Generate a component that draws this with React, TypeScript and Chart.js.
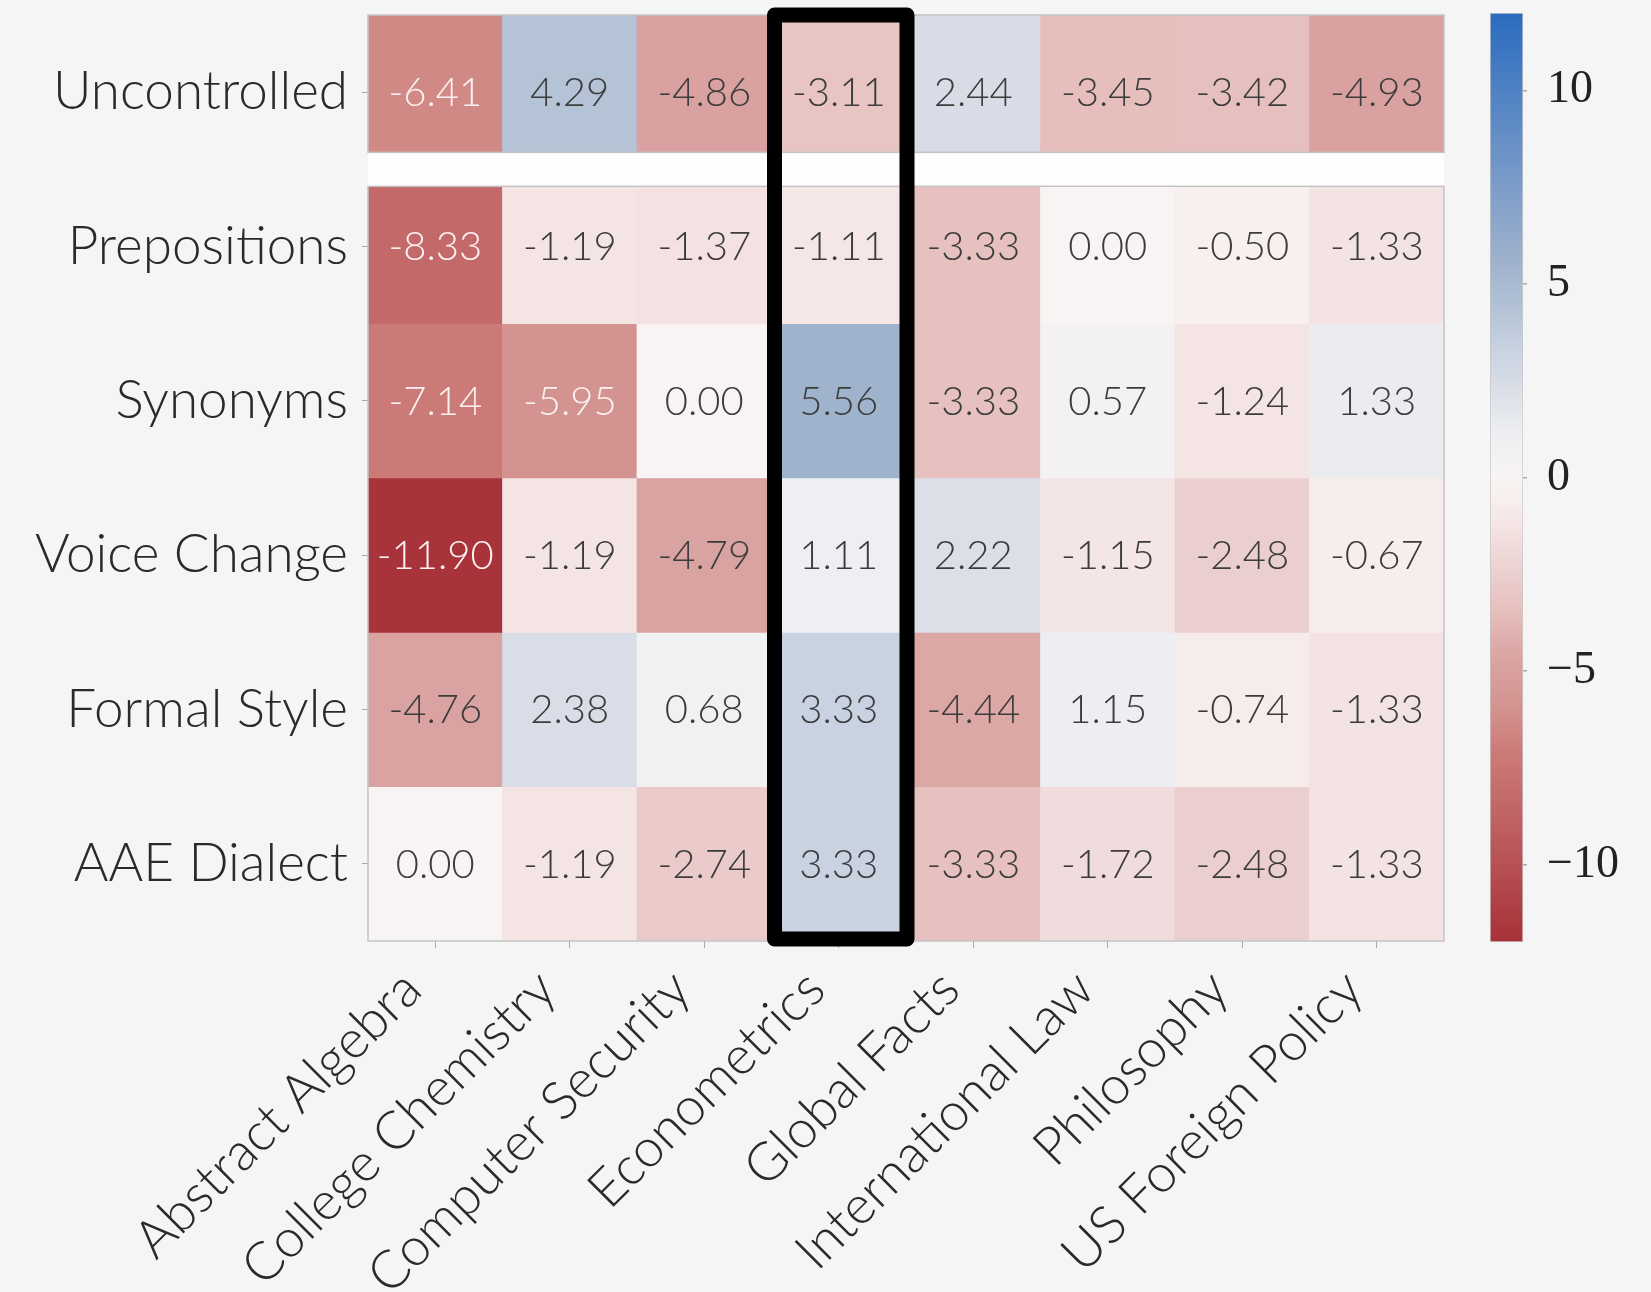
import React, { useEffect, useRef } from "react";
import { Chart, registerables } from "chart.js";

Chart.register(...registerables);

// ---------- data ----------
const columns = [
  "Abstract Algebra",
  "College Chemistry",
  "Computer Security",
  "Econometrics",
  "Global Facts",
  "International Law",
  "Philosophy",
  "US Foreign Policy",
];
const rowLabels = ["Uncontrolled", "Prepositions", "Synonyms", "Voice Change", "Formal Style", "AAE Dialect"];
const uncontrolled = [-6.41, 4.29, -4.86, -3.11, 2.44, -3.45, -3.42, -4.93];
const prepositions = [-8.33, -1.19, -1.37, -1.11, -3.33, 0.0, -0.5, -1.33];
const synonyms = [-7.14, -5.95, 0.0, 5.56, -3.33, 0.57, -1.24, 1.33];
const voiceChange = [-11.9, -1.19, -4.79, 1.11, 2.22, -1.15, -2.48, -0.67];
const formalStyle = [-4.76, 2.38, 0.68, 3.33, -4.44, 1.15, -0.74, -1.33];
const aaeDialect = [0.0, -1.19, -2.74, 3.33, -3.33, -1.72, -2.48, -1.33];
const rowValues = [uncontrolled, prepositions, synonyms, voiceChange, formalStyle, aaeDialect];
const highlightedColumn = "Econometrics";
const colorbarTicks = [-10, -5, 0, 5, 10];
const colorMin = -12;
const colorMax = 12;

// ---------- style ----------
const BG = "#f5f5f5";
const LABEL_FONT = "Lato";
const LABEL_WEIGHT = "300";
const colorAnchors: [number, number[]][] = [
  [-12, [168, 49, 57]],
  [-9, [190, 96, 98]],
  [-7, [205, 124, 122]],
  [-6, [211, 146, 143]],
  [-4.5, [219, 167, 165]],
  [-3.4, [230, 192, 190]],
  [-2.5, [235, 207, 207]],
  [-1.2, [244, 229, 228]],
  [-0.6, [247, 239, 237]],
  [0, [248, 244, 243]],
  [1.1, [238, 239, 242]],
  [2.3, [217, 222, 231]],
  [3.33, [200, 210, 225]],
  [4.3, [180, 195, 214]],
  [5.6, [159, 178, 205]],
  [12, [42, 107, 191]],
];

function colorRGB(v: number): number[] {
  const x = Math.max(colorMin, Math.min(colorMax, v));
  for (let i = 0; i < colorAnchors.length - 1; i++) {
    const [a, ca] = colorAnchors[i];
    const [b, cb] = colorAnchors[i + 1];
    if (x >= a && x <= b) {
      const t = (x - a) / (b - a);
      return ca.map((c, k) => Math.round(c + (cb[k] - c) * t));
    }
  }
  return colorAnchors[colorAnchors.length - 1][1];
}
const rgb = (c: number[]) => `rgb(${c[0]},${c[1]},${c[2]})`;
function luminance(c: number[]) {
  const lin = c.map((u) => {
    const s = u / 255;
    return s <= 0.03928 ? s / 12.92 : Math.pow((s + 0.055) / 1.055, 2.4);
  });
  return 0.2126 * lin[0] + 0.7152 * lin[1] + 0.0722 * lin[2];
}

const GAP_HALF = 0.11; // half-height of separator strip in row units

const overlayPlugin = {
  id: "heatOverlay",
  afterDatasetsDraw(chart: any) {
    const { ctx, chartArea, scales } = chart;
    const y = scales.y;
    const gTop = y.getPixelForValue(1 - GAP_HALF);
    const gBot = y.getPixelForValue(1 + GAP_HALF);
    ctx.save();
    // separator strip
    ctx.fillStyle = "#fdfdfd";
    ctx.fillRect(chartArea.left, gTop, chartArea.right - chartArea.left, gBot - gTop);
    // frames
    ctx.strokeStyle = "#c4c4c4";
    ctx.lineWidth = 1.5;
    ctx.strokeRect(chartArea.left, chartArea.top, chartArea.right - chartArea.left, gTop - chartArea.top);
    ctx.strokeRect(chartArea.left, gBot, chartArea.right - chartArea.left, chartArea.bottom - gBot);
    // annotations
    ctx.font = `${LABEL_WEIGHT} 40px ${LABEL_FONT}`;
    ctx.textAlign = "center";
    ctx.textBaseline = "middle";
    rowValues.forEach((vals, r) => {
      const meta = chart.getDatasetMeta(r);
      meta.data.forEach((el: any, c: number) => {
        const v = vals[c];
        const col = colorRGB(v);
        ctx.fillStyle = luminance(col) < 0.4 ? "#fbf1f1" : "#3c3c3c";
        const cy = (el.y + el.base) / 2;
        ctx.fillText(v.toFixed(2), el.x, cy + 1);
      });
    });
    ctx.restore();
  },
  afterDraw(chart: any) {
    const { ctx, chartArea, scales } = chart;
    const x = scales.x;
    const idx = columns.indexOf(highlightedColumn);
    if (idx < 0) return;
    const cx = x.getPixelForValue(idx);
    const hw = (x.getPixelForValue(1) - x.getPixelForValue(0)) / 2;
    const left = cx - hw + 3;
    const right = cx + hw + 1;
    const top = chartArea.top;
    const bottom = chartArea.bottom - 2;
    ctx.save();
    ctx.strokeStyle = "#000";
    ctx.lineWidth = 15;
    ctx.lineJoin = "round";
    ctx.strokeRect(left, top, right - left, bottom - top);
    ctx.restore();
  },
};

export default function App() {
  const heatRef = useRef<HTMLCanvasElement>(null);
  const barRef = useRef<HTMLCanvasElement>(null);

  useEffect(() => {
    document.body.style.margin = "0";
    document.body.style.background = BG;

    const datasets = rowLabels.map((label, r) => ({
      label,
      data: columns.map(() => [r, r + 1]),
      backgroundColor: columns.map((_, c) => rgb(colorRGB(rowValues[r][c]))),
      borderWidth: 0,
      barPercentage: 1,
      categoryPercentage: 1,
      grouped: false,
    }));

    const heat = new Chart(heatRef.current as HTMLCanvasElement, {
      type: "bar",
      data: { labels: columns, datasets: datasets as any },
      options: {
        animation: false,
        responsive: false,
        layout: { padding: { top: 15, right: 207, bottom: 0, left: 0 } },
        plugins: { legend: { display: false }, tooltip: { enabled: false } },
        scales: {
          x: {
            type: "category",
            offset: true,
            grid: { offset: false, drawOnChartArea: false, drawTicks: true, tickLength: 7, color: "#aaaaaa" },
            border: { display: false },
            ticks: {
              autoSkip: false,
              minRotation: 45,
              maxRotation: 45,
              font: { family: LABEL_FONT, size: 53, weight: LABEL_WEIGHT },
              color: "#2a2a2a",
              padding: 10,
              labelOffset: -23,
            },
            afterFit: (s: any) => {
              s.height = 351;
              s.paddingLeft = 0;
              s.paddingRight = 0;
            },
          },
          y: {
            type: "linear",
            min: 0,
            max: rowLabels.length,
            reverse: true,
            afterBuildTicks: (s: any) => {
              s.ticks = rowLabels.map((_, i) => ({ value: i + 0.5 }));
            },
            grid: { drawOnChartArea: false, drawTicks: true, tickLength: 6, color: "#aaaaaa" },
            border: { display: false },
            ticks: {
              callback: (_v: any, i: number) => rowLabels[i],
              font: { family: LABEL_FONT, size: 53, weight: LABEL_WEIGHT },
              color: "#2a2a2a",
              padding: 14,
            },
            afterFit: (s: any) => {
              s.width = 368;
              s.paddingTop = 0;
              s.paddingBottom = 0;
            },
          },
        },
      } as any,
      plugins: [overlayPlugin],
    });

    const cbar = new Chart(barRef.current as HTMLCanvasElement, {
      type: "bar",
      data: {
        labels: [""],
        datasets: [
          {
            data: [[colorMin, colorMax]] as any,
            backgroundColor: (ctx: any) => {
              const chart = ctx.chart;
              const ys = chart.scales.y;
              if (!chart.chartArea || !ys) return "#ccc";
              const g = chart.ctx.createLinearGradient(0, ys.getPixelForValue(colorMin), 0, ys.getPixelForValue(colorMax));
              colorAnchors.forEach(([v, c]) => g.addColorStop((v - colorMin) / (colorMax - colorMin), rgb(c)));
              return g;
            },
            borderColor: "#c8c8c8",
            borderWidth: 1,
            borderSkipped: false,
            barPercentage: 1,
            categoryPercentage: 1,
          },
        ],
      },
      options: {
        animation: false,
        responsive: false,
        layout: { padding: { left: 40, top: 13, bottom: 350, right: 0 } },
        plugins: { legend: { display: false }, tooltip: { enabled: false } },
        scales: {
          x: { display: false },
          y: {
            position: "right",
            min: colorMin,
            max: colorMax,
            z: 1,
            afterBuildTicks: (s: any) => {
              s.ticks = colorbarTicks.map((v) => ({ value: v }));
            },
            ticks: {
              callback: (v: any) => (v < 0 ? "\u2212" + Math.abs(v) : String(v)),
              font: { family: "Liberation Serif", size: 46 },
              color: "#222222",
              padding: 20,
            },
            grid: { drawOnChartArea: true, color: "rgba(80,80,80,0.45)", lineWidth: 1.5, tickLength: 4 },
            border: { display: false },
            afterFit: (s: any) => {
              s.width = 128;
              s.paddingTop = 0;
              s.paddingBottom = 0;
            },
          },
        },
      } as any,
    });

    return () => {
      heat.destroy();
      cbar.destroy();
    };
  }, []);

  return (
    <div style={{ position: "relative", width: 1651, height: 1292, background: BG, overflow: "hidden" }}>
      <canvas ref={heatRef} width={1651} height={1292} style={{ position: "absolute", left: 0, top: 0, display: "block" }} />
      <canvas ref={barRef} width={201} height={1292} style={{ position: "absolute", left: 1450, top: 0, display: "block" }} />
    </div>
  );
}
